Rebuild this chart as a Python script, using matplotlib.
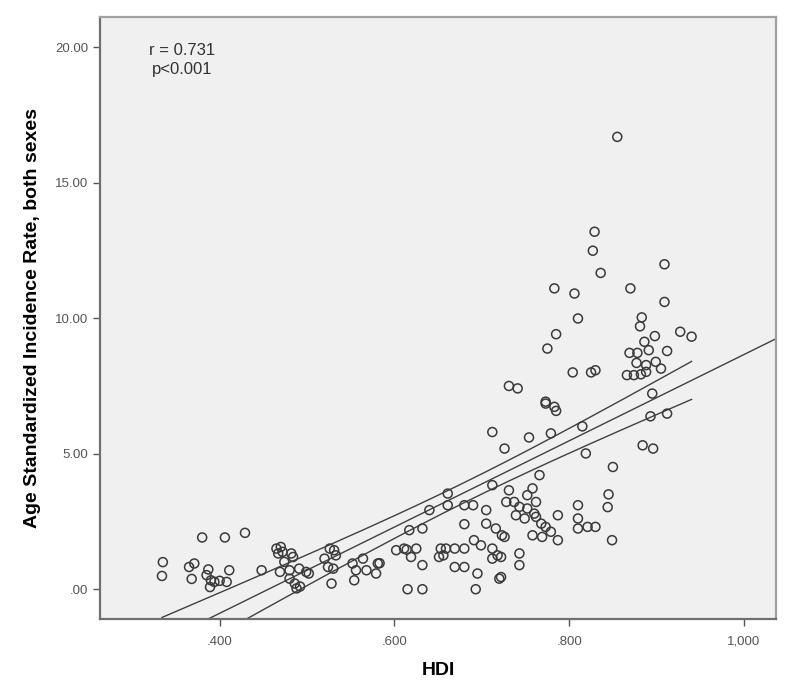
import numpy as np
import matplotlib
matplotlib.use("Agg")
import matplotlib.pyplot as plt

plt.rcParams['font.family'] = ['Liberation Sans', 'DejaVu Sans']

# HDI vs age standardized incidence rate (both sexes)
hdi = [
    0.335, 0.334, 0.365, 0.371, 0.368, 0.380, 0.387, 0.385, 0.390, 0.394,
    0.389, 0.400, 0.406, 0.408, 0.411, 0.429, 0.448,
    0.465, 0.470, 0.467, 0.472, 0.482, 0.484, 0.474, 0.469, 0.480, 0.491,
    0.499, 0.502, 0.480, 0.486, 0.488, 0.492,
    0.520, 0.526, 0.531, 0.533, 0.524, 0.530, 0.528, 0.552, 0.564, 0.581,
    0.556, 0.568, 0.579, 0.554, 0.583,
    0.602, 0.611, 0.614, 0.625, 0.619, 0.632, 0.615, 0.632, 0.617, 0.632,
    0.640, 0.661, 0.661, 0.653, 0.659, 0.669, 0.680, 0.651, 0.656, 0.669,
    0.680, 0.680, 0.690, 0.680, 0.691, 0.693, 0.699, 0.712, 0.712, 0.718,
    0.695, 0.720, 0.705, 0.705, 0.716, 0.726, 0.712, 0.723, 0.722, 0.722,
    0.712, 0.726, 0.754, 0.779, 0.773, 0.785, 0.815, 0.819, 0.766, 0.731,
    0.758, 0.728, 0.737, 0.743, 0.752, 0.762, 0.752, 0.760, 0.739, 0.749,
    0.762, 0.768, 0.773, 0.758, 0.769, 0.779, 0.787, 0.787, 0.810, 0.810,
    0.810, 0.821, 0.830, 0.743, 0.743, 0.731, 0.741, 0.773, 0.783,
    0.855, 0.829, 0.827, 0.836, 0.783, 0.806, 0.810, 0.785, 0.775, 0.804,
    0.825, 0.830, 0.909, 0.870, 0.909, 0.883, 0.881, 0.927, 0.940, 0.898,
    0.886, 0.891, 0.912, 0.869, 0.878, 0.877, 0.888, 0.899, 0.905, 0.866,
    0.874, 0.882, 0.888, 0.895, 0.893, 0.912, 0.884, 0.896, 0.850, 0.845,
    0.844, 0.849,
]
asir = [
    1.00, 0.49, 0.82, 0.95, 0.38, 1.91, 0.73, 0.52, 0.33, 0.27,
    0.08, 0.31, 1.91, 0.27, 0.70, 2.08, 0.70,
    1.50, 1.56, 1.32, 1.38, 1.32, 1.19, 1.01, 0.64, 0.70, 0.76,
    0.64, 0.58, 0.39, 0.21, 0.03, 0.10,
    1.13, 1.50, 1.44, 1.25, 0.82, 0.76, 0.21, 0.95, 1.13, 0.95,
    0.70, 0.70, 0.58, 0.33, 0.96,
    1.44, 1.50, 1.46, 1.50, 1.19, 0.89, 0.00, 0.00, 2.18, 2.24,
    2.92, 3.53, 3.10, 1.50, 1.50, 1.50, 1.50, 1.19, 1.25, 0.82,
    0.82, 3.10, 3.10, 2.40, 1.81, 0.00, 1.62, 1.50, 1.13, 1.25,
    0.58, 0.39, 2.92, 2.42, 2.24, 1.93, 3.84, 1.99, 1.19, 0.45,
    5.80, 5.19, 5.60, 5.75, 6.85, 6.58, 6.01, 5.01, 4.21, 3.65,
    3.72, 3.22, 3.22, 3.04, 3.47, 3.22, 2.98, 2.79, 2.73, 2.61,
    2.67, 2.42, 2.30, 1.99, 1.93, 2.12, 1.81, 2.73, 3.10, 2.61,
    2.24, 2.30, 2.30, 1.32, 0.89, 7.50, 7.41, 6.92, 6.73,
    16.69, 13.19, 12.49, 11.67, 11.10, 10.91, 9.99, 9.41, 8.88, 8.00,
    8.00, 8.08, 11.99, 11.10, 10.60, 10.03, 9.70, 9.50, 9.32, 9.34,
    9.13, 8.82, 8.79, 8.72, 8.72, 8.35, 8.27, 8.39, 8.14, 7.90,
    7.90, 7.93, 8.02, 7.22, 6.38, 6.48, 5.31, 5.19, 4.51, 3.50,
    3.03, 1.81,
]

x_ticks = [0.4, 0.6, 0.8, 1.0]
x_tick_labels = ['.400', '.600', '.800', '1,000']
y_ticks = [0, 5, 10, 15, 20]
y_tick_labels = ['.00', '5.00', '10.00', '15.00', '20.00']
stats_text = 'r = 0.731\np<0.001'

x = np.array(hdi)
y = np.array(asir)
n = len(x)

# linear fit with 95% confidence interval of the mean
slope, intercept = np.polyfit(x, y, 1)
resid = y - (intercept + slope * x)
s = np.sqrt(np.sum(resid ** 2) / (n - 2))
sxx = np.sum((x - x.mean()) ** 2)
t = 1.975

fig = plt.figure(figsize=(7.93, 6.94), dpi=100)
ax = fig.add_axes([0.126, 0.108, 0.853, 0.867])
ax.set_facecolor('#f0f0f0')

ax.scatter(x, y, s=42, facecolors='none', edgecolors='#3a3a3a', linewidths=1.1, zorder=3)

xl = (0.263, 1.037)
xx = np.linspace(xl[0], xl[1], 200)
ax.plot(xx, intercept + slope * xx, color='#404040', lw=1.0, zorder=2)

xc = np.linspace(x.min(), x.max(), 200)
half = t * s * np.sqrt(1.0 / n + (xc - x.mean()) ** 2 / sxx)
yc = intercept + slope * xc
ax.plot(xc, yc + half, color='#404040', lw=1.0, zorder=2)
ax.plot(xc, yc - half, color='#404040', lw=1.0, zorder=2)

ax.set_xlim(*xl)
ax.set_ylim(-1.1, 21.1)
ax.set_xticks(x_ticks)
ax.set_xticklabels(x_tick_labels)
ax.set_yticks(y_ticks)
ax.set_yticklabels(y_tick_labels)
ax.tick_params(direction='out', length=5, width=1, color='#555555',
               labelcolor='#555555', labelsize=9.5)
ax.tick_params(axis='x', pad=7)

for side in ['left', 'bottom']:
    ax.spines[side].set_color('#707070')
    ax.spines[side].set_linewidth(1.6)
for side in ['top', 'right']:
    ax.spines[side].set_color('#a0a0a0')
    ax.spines[side].set_linewidth(1.6)

ax.set_xlabel('HDI', fontsize=14, fontweight='bold', labelpad=10)
ax.set_ylabel('Age Standardized Incidence Rate, both sexes', fontsize=14,
              fontweight='bold', labelpad=10)

ax.text(0.121, 0.958, stats_text, transform=ax.transAxes, ha='center', va='top',
        fontsize=12, color='#333333', linespacing=1.35)

fig.savefig('out.png', dpi=100)
